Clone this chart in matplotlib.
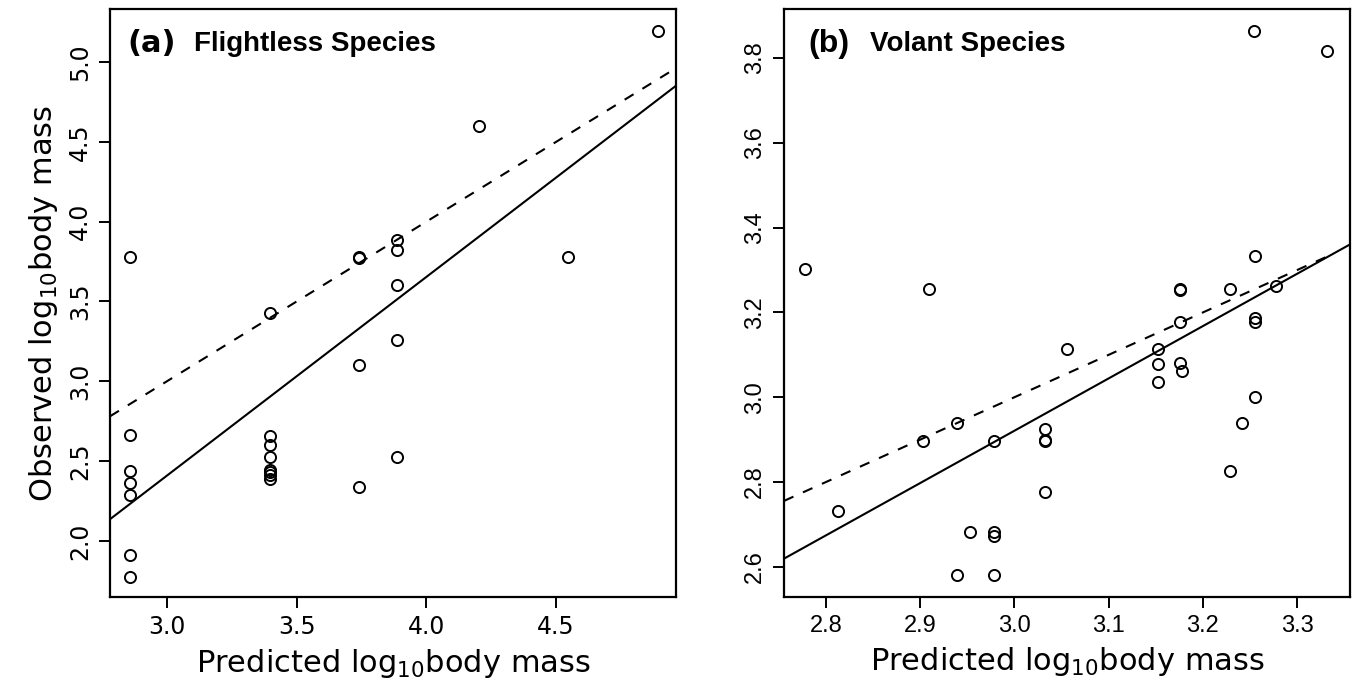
import matplotlib
matplotlib.use('Agg')
import matplotlib.pyplot as plt
import numpy as np

# (a) flightless species: predicted vs observed log10 body mass
pred_a = [4.892, 4.204, 4.544, 2.859, 3.739, 3.739, 3.885, 3.885, 3.885, 3.885, 3.885,
          3.398, 3.398, 3.398, 3.398, 3.398, 3.398, 3.398, 3.398, 3.739, 3.739,
          2.859, 2.859, 2.859, 2.859, 2.859, 2.859]
obs_a = [5.196, 4.60, 3.78, 3.78, 3.78, 3.775, 3.884, 3.82, 3.606, 3.26, 2.525,
         3.43, 2.66, 2.60, 2.525, 2.446, 2.43, 2.41, 2.39, 3.10, 2.335,
         2.661, 2.436, 2.362, 2.287, 1.909, 1.777]
fit_a = [-1.326, 1.245]  # intercept, slope

# (b) volant species
pred_b = [3.2546, 3.332, 2.778, 2.909, 3.176, 3.176, 3.229, 3.255, 3.278, 3.176, 3.255, 3.255,
          3.0556, 3.1526, 3.1526, 3.1526, 3.176, 3.178, 3.255, 3.2416, 3.2286, 2.939, 2.903,
          2.978, 3.033, 3.033, 3.033, 3.033, 2.813, 2.953, 2.978, 2.978, 2.939, 2.978]
obs_b = [3.8635, 3.8165, 3.302, 3.2557, 3.256, 3.254, 3.256, 3.332, 3.263, 3.177, 3.188, 3.177,
         3.113, 3.113, 3.079, 3.037, 3.081, 3.061, 3.0008, 2.939, 2.827, 2.939, 2.896,
         2.896, 2.925, 2.90, 2.896, 2.777, 2.731, 2.6816, 2.682, 2.672, 2.58, 2.58]
fit_b = [-0.781, 1.234]

xticks_a = [3.0, 3.5, 4.0, 4.5]
yticks_a = [2.0, 2.5, 3.0, 3.5, 4.0, 4.5, 5.0]
xticks_b = [2.8, 2.9, 3.0, 3.1, 3.2, 3.3]
yticks_b = [2.6, 2.8, 3.0, 3.2, 3.4, 3.6, 3.8]

plt.rcParams['font.family'] = ['DejaVu Sans']
plt.rcParams['mathtext.fontset'] = 'dejavusans'

fig = plt.figure(figsize=(13.57, 6.88), dpi=100)
ax_a = fig.add_axes([0.0811, 0.1323, 0.4171, 0.8546])
ax_b = fig.add_axes([0.5777, 0.1323, 0.4171, 0.8546])

narrow = ['Liberation Sans Narrow', 'Liberation Sans', 'DejaVu Sans']


def style_axes(ax, xticks, yticks, tickfont, ticksize):
    ax.set_xticks(xticks)
    ax.set_yticks(yticks)
    ax.set_xticklabels(['%.1f' % t for t in xticks], family=tickfont, fontsize=ticksize)
    ax.set_yticklabels(['%.1f' % t for t in yticks], family=tickfont, fontsize=ticksize,
                       rotation=90, va='center')
    ax.tick_params(direction='out', length=8, width=1.4, pad=5)
    ax.tick_params(axis='y', pad=5)
    for s in ax.spines.values():
        s.set_linewidth(1.6)
    ax.set_xlabel('Predicted log$_{10}$body mass', fontsize=22, labelpad=6)


# panel a
ax_a.set_xlim(2.781, 4.962)
ax_a.set_ylim(1.649, 5.332)
ax_a.plot(pred_a, obs_a, 'o', mfc='none', mec='black', ms=8, mew=1.4)
xa = np.array(ax_a.get_xlim())
ax_a.plot(xa, fit_a[0] + fit_a[1] * xa, '-', color='black', lw=1.5)
ax_a.plot(xa, xa, '--', color='black', lw=1.5, dashes=(5, 5))
style_axes(ax_a, xticks_a, yticks_a, 'DejaVu Sans', 17)
ax_a.set_ylabel('Observed log$_{10}$body mass', fontsize=22, labelpad=6)
ax_a.text(0.030, 0.941, '(a)', transform=ax_a.transAxes, fontsize=22,
          fontweight='bold', va='center', ha='left')
ax_a.text(0.148, 0.941, 'Flightless Species', transform=ax_a.transAxes, fontsize=20,
          fontweight='bold', va='center', ha='left', family=narrow)

# panel b
ax_b.set_xlim(2.7555, 3.356)
ax_b.set_ylim(2.529, 3.9155)
ax_b.plot(pred_b, obs_b, 'o', mfc='none', mec='black', ms=8, mew=1.4)
xb = np.array(ax_b.get_xlim())
ax_b.plot(xb, fit_b[0] + fit_b[1] * xb, '-', color='black', lw=1.5)
xd = np.array([xb[0], max(pred_b)])
ax_b.plot(xd, xd, '--', color='black', lw=1.5, dashes=(5, 5))
style_axes(ax_b, xticks_b, yticks_b, 'Liberation Sans', 17)
ax_b.text(0.043, 0.941, '(b)', transform=ax_b.transAxes, fontsize=23,
          fontweight='bold', va='center', ha='left', family=['Liberation Sans', 'DejaVu Sans'])
ax_b.text(0.152, 0.941, 'Volant Species', transform=ax_b.transAxes, fontsize=20,
          fontweight='bold', va='center', ha='left', family=narrow)

fig.savefig('out.png', dpi=100)
plt.close(fig)
